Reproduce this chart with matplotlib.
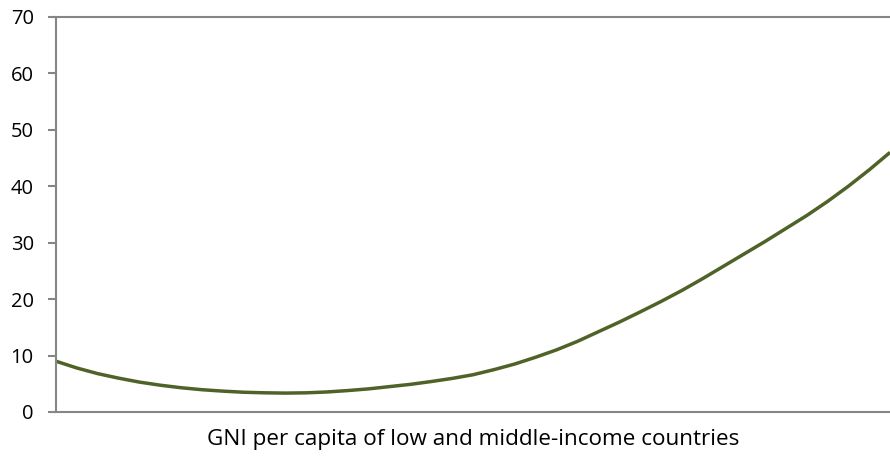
import matplotlib
matplotlib.use("Agg")
import matplotlib.pyplot as plt

# values (x in arbitrary units 0..100)
gni_pos = [0, 2.5, 5, 7.5, 10, 12.5, 15, 17.5, 20, 22.5, 25, 27.5, 30,
           32.5, 35, 37.5, 40, 42.5, 45, 47.5, 50, 52.5, 55, 57.5, 60,
           62.5, 65, 67.5, 70, 72.5, 75, 77.5, 80, 82.5, 85, 87.5, 90,
           92.5, 95, 97.5, 100]
curve_vals = [9.0, 7.8, 6.8, 6.0, 5.3, 4.75, 4.3, 3.95, 3.7, 3.5, 3.4, 3.35, 3.4,
              3.55, 3.8, 4.1, 4.5, 4.9, 5.4, 5.95, 6.6, 7.5, 8.5, 9.7, 11.0,
              12.5, 14.2, 15.9, 17.7, 19.55, 21.5, 23.6, 25.8, 28.0, 30.2, 32.5, 34.8,
              37.3, 40.0, 42.9, 46.0]
y_ticks = [0, 10, 20, 30, 40, 50, 60, 70]
x_title = "GNI per capita of low and middle-income countries"

plt.rcParams["font.family"] = ["Open Sans", "DejaVu Sans"]

fig = plt.figure(figsize=(8.9, 4.59), dpi=100)
ax = fig.add_axes([0.0629, 0.1024, 0.9371, 0.8606])

ax.plot(gni_pos, curve_vals, color="#4F6228", lw=2.5,
        solid_capstyle="butt", solid_joinstyle="round")

ax.set_xlim(0, 100)
ax.set_ylim(0, 70)
ax.set_yticks(y_ticks)
ax.set_xticks([])

grey = "#868686"
for side in ["left", "bottom", "top"]:
    ax.spines[side].set_color(grey)
    ax.spines[side].set_linewidth(1.5)
ax.spines["right"].set_visible(False)

ax.tick_params(axis="y", direction="out", length=6, width=1.5, color=grey,
               labelsize=14.5, pad=10)
ax.set_xlabel(x_title, fontsize=16.2, labelpad=12)

fig.savefig("out.png", dpi=100)
